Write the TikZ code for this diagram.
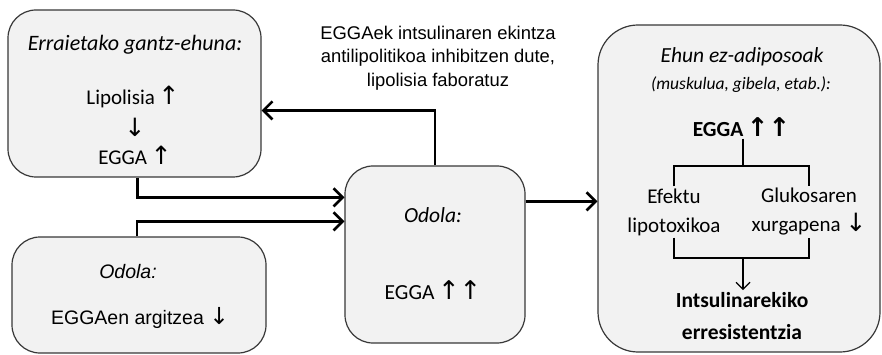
\documentclass[tikz,border=0pt]{standalone}
\usepackage{fontspec}
\setmainfont{Carlito}
\newfontfamily\arialf{Liberation Sans}
\newfontfamily\symf{DejaVu Sans}
\usetikzlibrary{arrows.meta,calc}

% arrow glyphs used inside the labels, a little larger than the text
\makeatletter
\newcommand{\arrglyph}[1]{{\symf\fontsize{\strip@pt\dimexpr1.2\dimexpr\f@size pt\relax\relax}{\f@baselineskip}\selectfont\char"#1}}
\makeatother
\newcommand{\arU}{\arrglyph{2191}}
\newcommand{\arD}{\arrglyph{2193}}
\newcommand{\fs}[2]{\fontsize{#1}{#2}\selectfont}

\begin{document}
\begin{tikzpicture}[x=1pt,y=-1pt,
  box/.style={draw=black!78,line width=1.2pt,fill=black!5,rounded corners=#1,inner sep=0pt},
  box/.default=28pt,
  lbl/.style={inner sep=2pt,align=center,font=\fs{21}{24}},
  conn/.style={line width=2.6pt,-{Straight Barb[length=9pt,width=18pt]}},
  tree/.style={line width=1.3pt},
]
\useasboundingbox (0,0) rectangle (882,355);

% boxes
\node[box, minimum width=253pt, minimum height=167pt] (b1) at (134.5,93.5) {};
\node[box, minimum width=254pt, minimum height=116pt] (b2) at (139,295) {};
\node[box, minimum width=180pt, minimum height=177pt] (b3) at (435,254.5) {};
\node[box=40pt, minimum width=282pt, minimum height=327pt] (b4) at (739,188.5) {};

% visceral fat tissue
\node[lbl,font=\fs{22}{24}] (t1) at (135,45) {\itshape Erraietako gantz-ehuna:};
\node[lbl] (t2) at (133,97) {Lipolisia\,\arU};
\node[lbl] (t3) at (135,127) {\arD};
\node[lbl] (t4) at (135,155) {EGGA\,\arU};

% blood, clearance
\node[lbl,font=\arialf\fs{19.5}{24}] (t5) at (128,272) {\itshape Odola:};
\node[lbl,font=\arialf\fs{19.5}{24}] (t6) at (140,318) {EGGAen argitzea \arD};

% blood, middle box
\node[lbl,font=\fs{21.5}{24}] (t7) at (433,215) {\itshape Odola:};
\node[lbl,font=\fs{21.5}{24}] (t8) at (433,290) {EGGA\,\arU\arU};

% note on the feedback path
\node[lbl,font=\arialf\fs{18.4}{23.5}] (note) at (438,58)
  {EGGAek intsulinaren ekintza\\antilipolitikoa inhibitzen dute,\\lipolisia faboratuz};

% non-adipose tissues
\node[lbl,font=\fs{21.5}{24}] (h1) at (742,57) {\itshape Ehun ez-adiposoak};
\node[lbl,font=\fs{17.5}{20}] (h2) at (741,85) {\itshape (muskulua, gibela, etab.):};
\node[lbl,font=\bfseries\fs{21.5}{24}] (e4) at (741.5,127) {EGGA\,\arU\arU};
\node[lbl,font=\fs{21}{29}] (eft) at (674,212) {Efektu\\lipotoxikoa};
\node[lbl,font=\fs{21}{29}] (glu) at (809,212) {Glukosaren\\xurgapena \arD};
\node[lbl,font=\bfseries\fs{21.5}{32}] (res) at (742,316) {Intsulinarekiko\\erresistentzia};

\coordinate (tj) at (743,166);
\coordinate (bj) at (743,258);
\draw[tree] (e4.south -| tj) -- (tj);
\draw[tree] (eft.north) |- (tj) -| (glu.north);
\draw[tree] (eft.south) |- (bj) -| (glu.south);
\draw[tree,-{Straight Barb[length=7pt,width=14pt]}] (bj) -- (res.north -| bj);

% connectors between the boxes
\draw[conn] ($(b1.south)+(3,0)$) |- ($(b3.north west)+(0,32)$);
\draw[conn] ($(b2.north)+(-2,0)$) |- ($(b3.north west)+(0,56)$);
\draw[conn] ($(b3.north east)+(0,36)$) -- ($(b4.north west)+(0,177)$);
\draw[conn] (b3.north) |- ($(b1.north east)+(0,101)$);
\end{tikzpicture}
\end{document}
